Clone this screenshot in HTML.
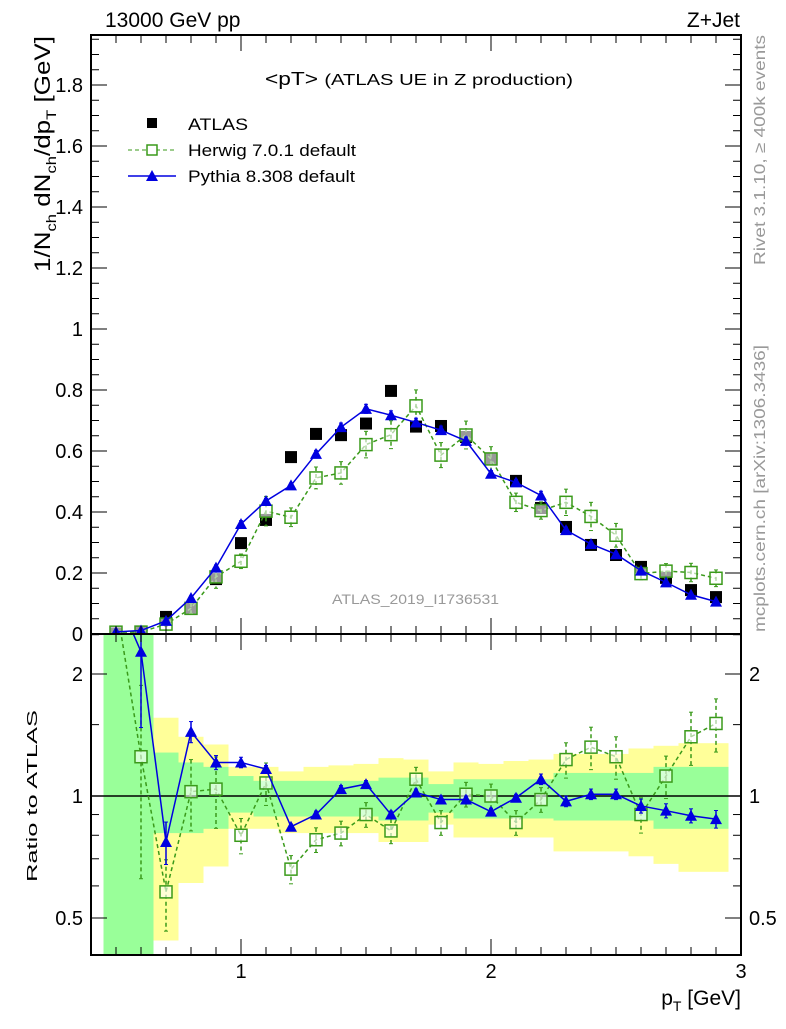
<!DOCTYPE html>
<html><head><meta charset="utf-8"><style>
body{margin:0;background:#fff;width:786px;height:1024px;overflow:hidden}
svg{font-family:"Liberation Sans",sans-serif}
</style></head><body>
<svg id="c" width="786" height="1024" viewBox="0 0 786 1024" xmlns="http://www.w3.org/2000/svg">
<defs><clipPath id="clipR"><rect x="91" y="634" width="650" height="321"/></clipPath><clipPath id="clipM"><rect x="91" y="35" width="650" height="599"/></clipPath></defs>
<text x="105" y="27" font-size="21">13000 GeV pp</text>
<text x="740" y="27" font-size="21" text-anchor="end">Z+Jet</text>
<text x="265" y="85" font-size="18" textLength="308" lengthAdjust="spacingAndGlyphs">&lt;pT&gt; <tspan font-size="16">(ATLAS UE in Z production)</tspan></text>
<text x="332" y="604" font-size="14" fill="#999" textLength="167" lengthAdjust="spacingAndGlyphs">ATLAS_2019_I1736531</text>
<text transform="translate(765,265) rotate(-90)" font-size="16" fill="#999" textLength="230" lengthAdjust="spacingAndGlyphs">Rivet 3.1.10, ≥ 400k events</text>
<text transform="translate(765,632) rotate(-90)" font-size="16" fill="#999" textLength="287" lengthAdjust="spacingAndGlyphs">mcplots.cern.ch [arXiv:1306.3436]</text>
<text transform="translate(50,272) rotate(-90)" font-size="22" textLength="236" lengthAdjust="spacingAndGlyphs">1/N<tspan font-size="14" dy="6">ch</tspan><tspan dy="-6"> dN</tspan><tspan font-size="14" dy="6">ch</tspan><tspan dy="-6">/dp</tspan><tspan font-size="14" dy="6">T</tspan><tspan dy="-6"> [GeV]</tspan></text>
<text transform="translate(37,882) rotate(-90)" font-size="15" textLength="172" lengthAdjust="spacingAndGlyphs">Ratio to ATLAS</text>
<text x="741" y="1005" font-size="21" text-anchor="end">p<tspan font-size="14" dy="6">T</tspan><tspan dy="-6"> [GeV]</tspan></text>
<g>
<g><rect x="147" y="118" width="10" height="10" fill="#000"/><text x="188" y="130" font-size="17" textLength="60" lengthAdjust="spacingAndGlyphs">ATLAS</text></g>
<g><line x1="128" y1="150" x2="176" y2="150" stroke="#3a9a1a" stroke-dasharray="4,3"/><rect x="147" y="145" width="10" height="10" fill="#fff" stroke="#3a9a1a" stroke-width="1.5"/><text x="188" y="156" font-size="17" textLength="168" lengthAdjust="spacingAndGlyphs">Herwig 7.0.1 default</text></g>
<g><line x1="128" y1="176" x2="176" y2="176" stroke="#0000e0" stroke-width="1.5"/><path d="M146,181 L158,181 L152,170 Z" fill="#0000e0"/><text x="188" y="182" font-size="17" textLength="167" lengthAdjust="spacingAndGlyphs">Pythia 8.308 default</text></g>
</g>
<g id="bands"></g><g id="marks"></g><g id="axes"></g>
</svg>
<script>
const centers=[0.5,0.6,0.7,0.8,0.9,1.0,1.1,1.2,1.3,1.4,1.5,1.6,1.7,1.8,1.9,2.0,2.1,2.2,2.3,2.4,2.5,2.6,2.7,2.8,2.9];
const atlas=[0.002,0.005,0.056,0.082,0.18,0.298,0.374,0.58,0.656,0.652,0.69,0.797,0.68,0.682,0.646,0.574,0.502,0.413,0.351,0.292,0.259,0.22,0.184,0.144,0.121];
const pythiaRatio=[3.5,2.27,0.77,1.44,1.21,1.21,1.166,0.84,0.90,1.04,1.07,0.90,1.02,0.98,0.98,0.915,0.99,1.10,0.97,1.01,1.01,0.945,0.92,0.894,0.877];
const herwigRatio=[3.0,1.25,0.58,1.025,1.04,0.80,1.077,0.66,0.78,0.81,0.90,0.82,1.10,0.86,1.01,1.0,0.86,0.98,1.23,1.32,1.25,0.90,1.12,1.40,1.51];
const yellowUp=[3,2.08,1.56,1.40,1.34,1.18,1.18,1.15,1.18,1.19,1.20,1.24,1.23,1.15,1.21,1.20,1.22,1.23,1.27,1.27,1.27,1.31,1.33,1.35,1.35];
const yellowDn=[0.3,0.3,0.44,0.61,0.67,0.83,0.83,0.81,0.81,0.81,0.81,0.77,0.77,0.85,0.79,0.79,0.79,0.79,0.73,0.73,0.73,0.71,0.68,0.65,0.65];
const greenUp=[3,3,1.28,1.21,1.18,1.12,1.09,1.09,1.09,1.09,1.09,1.11,1.11,1.07,1.10,1.10,1.10,1.10,1.14,1.14,1.14,1.14,1.18,1.18,1.18];
const greenDn=[0.3,0.3,0.81,0.81,0.83,0.91,0.89,0.89,0.89,0.89,0.89,0.87,0.87,0.91,0.88,0.88,0.88,0.88,0.87,0.87,0.87,0.87,0.83,0.83,0.83];
const pythiaErr=[0.01,0.35,0.12,0.06,0.04,0.03,0.02,0.015,0.02,0.02,0.02,0.02,0.02,0.02,0.02,0.02,0.02,0.03,0.03,0.03,0.03,0.04,0.04,0.04,0.05];
const herwigErr=[0.05,0.5,0.2,0.2,0.2,0.1,0.12,0.08,0.07,0.07,0.07,0.07,0.07,0.07,0.07,0.07,0.07,0.07,0.1,0.12,0.12,0.1,0.12,0.15,0.15];
const mainTicks=[0,0.2,0.4,0.6,0.8,1,1.2,1.4,1.6,1.8];
const ratioTicks=[0.5,1,2];
const xTicks=[1,2,3];

const X0=91,X1=741,MT=35,MB=634,RB=955;
const sx=v=>X0+(v-0.4)*250;
const sy=v=>MB-v*305;
const srRaw=v=>796-Math.log2(v)*122;
const sr=v=>Math.max(MB-40,Math.min(RB+40,srRaw(v)));
const RMAX=2.5;
const NS="http://www.w3.org/2000/svg";
function mk(p,t,a){const e=document.createElementNS(NS,t);for(const k in a)e.setAttribute(k,a[k]);p.appendChild(e);return e;}
const B=document.getElementById('bands'),M=document.getElementById('marks'),A=document.getElementById('axes');
B.setAttribute('clip-path','url(#clipR)');
const MR=mk(M,'g',{'clip-path':'url(#clipR)'});
const MM=mk(M,'g',{'clip-path':'url(#clipM)'});
centers.forEach((c,i)=>{
 const x=sx(c-0.05),w=250*0.1;
 let r=mk(B,'rect',{x:x,y:sr(yellowUp[i]),width:w,height:sr(yellowDn[i])-sr(yellowUp[i]),fill:'#ffff99'});
 
 
 r=mk(B,'rect',{x:x,y:sr(greenUp[i]),width:w,height:sr(greenDn[i])-sr(greenUp[i]),fill:'#99ff99'});
 
 
});
let l=mk(B,'line',{x1:X0,x2:X1,y1:796,y2:796,stroke:'#000','stroke-width':1.5});


centers.forEach((c,i)=>{
 const r=mk(MM,'rect',{x:sx(c)-6,y:sy(atlas[i])-6,width:12,height:12,fill:'#000'});
 
 
});
function series(ratio,err,col,dash,kind,name){
 const main=ratio.map((r,i)=>r*atlas[i]);
 const pm=centers.map((c,i)=>sx(c)+','+sy(main[i])).join(' ');
 const pr=centers.map((c,i)=>sx(c)+','+sr(ratio[i])).join(' ');
 [[pm,'main',MM],[pr,'ratio',MR]].forEach(([pts,p,g])=>{
  const e=mk(g,'polyline',{points:pts,fill:'none',stroke:col,'stroke-width':1.5,'stroke-dasharray':dash});
  
  
 });
 centers.forEach((c,i)=>{
  const x=sx(c);
  const ea=err[i]*main[i], er=err[i]*ratio[i];
  const sets=[[sy(main[i]+ea),sy(Math.max(0,main[i]-ea)),sy(main[i]),MM,'-point']];
  if(ratio[i]<RMAX) sets.push([sr(ratio[i]+er),sr(Math.max(0.01,ratio[i]-er)),sr(ratio[i]),MR,'-ratio-point']);
  sets.forEach(([a,b,y,P,suf])=>{
   const g=mk(P,'g',{});
   
   
   mk(g,'line',{x1:x,x2:x,y1:a,y2:b,stroke:col,'stroke-width':1.5,'stroke-dasharray':dash});
   mk(g,'line',{x1:x-2,x2:x+2,y1:a,y2:a,stroke:col});
   mk(g,'line',{x1:x-2,x2:x+2,y1:b,y2:b,stroke:col});
   if(kind==='tri') mk(g,'path',{d:`M${x-6},${y+5}L${x+6},${y+5}L${x},${y-6}Z`,fill:col});
   else mk(g,'rect',{x:x-6,y:y-6,width:12,height:12,fill:'#fff','fill-opacity':0.6,stroke:col,'stroke-width':1.5});
  });
 });
}
series(herwigRatio,herwigErr,'#3a9a1a','4,3','sq','herwig');
series(pythiaRatio,pythiaErr,'#0000e0','','tri','pythia');
[[MT,MB],[MB,RB]].forEach(([t,b],k)=>{
 const f=mk(A,'rect',{x:X0,y:t,width:X1-X0,height:b-t,fill:'none',stroke:'#000','stroke-width':2});
 
 
 for(let v=0.5;v<=2.95;v+=0.1){const x=sx(v);const maj=xTicks.some(m=>Math.abs(m-v)<1e-6);const L=maj?16:8;
  mk(A,'line',{x1:x,x2:x,y1:b,y2:b-L,stroke:'#000'});mk(A,'line',{x1:x,x2:x,y1:t,y2:t+L,stroke:'#000'});}
});
for(let v=0;v<=1.96;v+=0.05){const y=sy(v);const maj=mainTicks.some(m=>Math.abs(m-v)<1e-6);const L=maj?16:8;
 mk(A,'line',{x1:X0,x2:X0+L,y1:y,y2:y,stroke:'#000'});mk(A,'line',{x1:X1,x2:X1-L,y1:y,y2:y,stroke:'#000'});}
mainTicks.forEach(v=>{const t=mk(A,'text',{x:X0-8,y:sy(v)+7,'font-size':20,'text-anchor':'end'});t.textContent=String(v);
 
 });
const rm=[0.5,0.6,0.7,0.8,0.9,1,1.5,2,2.5];
rm.forEach(v=>{const y=srRaw(v);const maj=ratioTicks.includes(v);const L=maj?16:8;
 mk(A,'line',{x1:X0,x2:X0+L,y1:y,y2:y,stroke:'#000'});mk(A,'line',{x1:X1,x2:X1-L,y1:y,y2:y,stroke:'#000'});});
ratioTicks.forEach(v=>{[[X0-8,'end'],[X1+8,'start']].forEach(([x,a])=>{const t=mk(A,'text',{x:x,y:srRaw(v)+7,'font-size':20,'text-anchor':a});t.textContent=String(v);
 
 });});
xTicks.forEach(v=>{const t=mk(A,'text',{x:sx(v),y:978,'font-size':20,'text-anchor':'middle'});t.textContent=String(v);
 
 });
</script>
</body></html>
